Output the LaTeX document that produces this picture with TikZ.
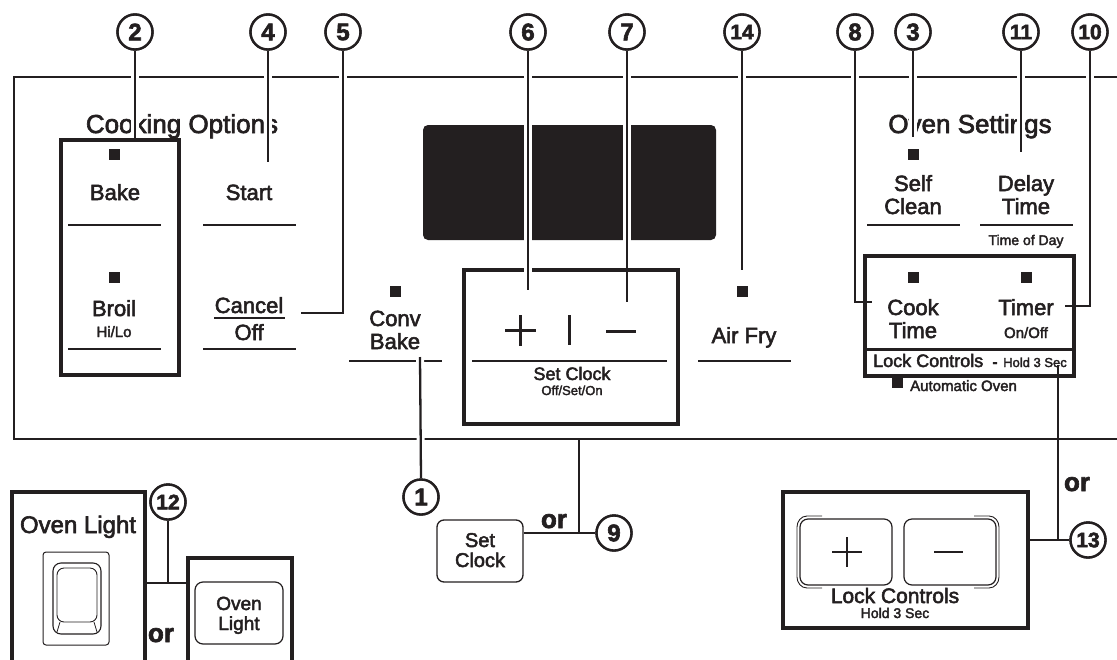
\documentclass[tikz,border=0pt]{standalone}
\usepackage{fontspec}
\setmainfont{Liberation Sans}[FakeBold=2.5]
\definecolor{ink}{RGB}{35,31,32}
\begin{document}
\begin{tikzpicture}[x=1pt,y=-1pt,
  every node/.style={inner sep=0pt, text=ink},
  tA/.style={font=\fontsize{26}{28}\selectfont, anchor=base},
  tB/.style={font=\fontsize{22}{24}\selectfont, anchor=base},
  tC/.style={font=\fontsize{18}{20}\selectfont, anchor=base},
  tD/.style={font=\fontsize{15}{17}\selectfont, anchor=base},
  tE/.style={font=\fontsize{13}{15}\selectfont, anchor=base},
  orlbl/.style={font=\bfseries\fontsize{26}{28}\selectfont, anchor=base},
  num/.style={circle, draw=ink, fill=white, line width=2.4pt, minimum size=35pt, inner sep=0pt, font=\bfseries\fontsize{24}{24}\selectfont},
  numsm/.style={num, font=\bfseries\fontsize{21}{21}\selectfont},
  led/.style={fill=ink, minimum size=11pt, inner sep=0pt},
  panel/.style={draw=ink, line width=1.8pt},
  uline/.style={draw=ink, line width=2.8pt},
  heavybox/.style={draw=ink, line width=4.2pt},
  ldr/.style={draw=ink, line width=2.3pt, preaction={draw=white, line width=8pt}},
  ldrplain/.style={draw=ink, line width=2.3pt},
  thinbtn/.style={draw=ink, line width=1.3pt, rounded corners=7pt},
  sym/.style={draw=ink, line width=3pt}
]
\useasboundingbox (0,0) rectangle (1117,659);
\clip (0,0) rectangle (1117,659);

% panel outline
\draw[panel] (1117,77) -- (14,77) -- (14,439) -- (1117,439);

% texts in panel
\node[tA] (cookopt) at (182,133) {Cooking Options};
\node[tA] (ovenset) at (970,133) {Oven Settings};
\node[tB] (bake) at (115,200) {Bake};
\node[tB] (start) at (249,200) {Start};
\node[tB] (broil) at (114,316) {Broil};
\node[tD] (hilo) at (114,337) {Hi/Lo};
\node[tB] (cancel) at (249,313) {Cancel};
\node[tB] (off) at (249,340) {Off};
\node[tB] (conv) at (395,326) {Conv};
\node[tB] (cbake) at (395,349) {Bake};
\node[tC] (setclk) at (572,380) {Set Clock};
\node[tE] (osn) at (572,395) {Off/Set/On};
\node[tB] (airfry) at (744,343) {Air Fry};
\node[tB] (self) at (913,191) {Self};
\node[tB] (clean) at (913,214) {Clean};
\node[tB] (delay) at (1026,191) {Delay};
\node[tB] (dtime) at (1026,214) {Time};
\node[font=\fontsize{14}{16}\selectfont, anchor=base] (tod) at (1026,245) {Time of Day};
\node[tB] (cook) at (913,315) {Cook};
\node[tB] (ctime) at (913,338) {Time};
\node[tB] (timer) at (1026,315) {Timer};
\node[tD] (onoff) at (1026,338) {On/Off};
\node[font=\fontsize{18}{20}\selectfont, anchor=base west] (lockc) at (873,367) {Lock Controls};
\node[font=\bfseries\fontsize{15}{17}\selectfont, anchor=base] (dash) at (995,367) {-};
\node[tE, anchor=base west] (hold) at (1003,367) {Hold 3 Sec};
\node[tD, anchor=base west] (auto) at (910,391) {Automatic Oven};

% LEDs
\node[led] (ledbake) at (114,154) {};
\node[led] (ledbroil) at (114,277) {};
\node[led] (ledconv) at (395,291) {};
\node[led] (ledair) at (742,291) {};
\node[led] (ledself) at (913,154) {};
\node[led] (ledcook) at (913,277) {};
\node[led] (ledtimer) at (1026,277) {};
\node[led] (ledauto) at (897,382) {};

% underlines
\draw[uline] (68,225) -- (161,225);
\draw[uline] (203,225) -- (296,225);
\draw[uline] (68,349) -- (161,349);
\draw[uline] (203,349) -- (296,349);
\draw[draw=ink, line width=2pt] (214,318) -- (285,318);
\draw[uline] (349,361) -- (442,361);
\draw[uline] (472,361) -- (667,361);
\draw[uline] (698,361) -- (791,361);
\draw[uline] (867,225) -- (960,225);
\draw[uline] (980,225) -- (1073,225);

% display
\fill[ink, rounded corners=5pt] (423,125) rectangle (716,240);

% plus | minus
\draw[sym] (505,330) -- (536,330) (520,315) -- (520,346);
\draw[sym] (569,315) -- (569,345);
\draw[sym] (606,331) -- (636,331);

% number circles (positions)
\node[num] (n2) at (135,32) {2};
\node[num] (n4) at (268,32) {4};
\node[num] (n5) at (343,32) {5};
\node[num] (n6) at (528,32) {6};
\node[num] (n7) at (627,32) {7};
\node[numsm] (n14) at (742,32) {14};
\node[num] (n8) at (855,32) {8};
\node[num] (n3) at (913,32) {3};
\node[numsm] (n11) at (1021,32) {11};
\node[numsm] (n10) at (1090,32) {10};
\node[num] (n1) at (421,497) {1};
\node[num] (n9) at (614,533) {9};
\node[numsm] (n12) at (168,502) {12};
\node[numsm] (n13) at (1088,540) {13};

% leaders
\draw[ldr] (n2.south) -- (135,140);
\draw[ldr] (n4.south) -- (268,162);
\draw[ldr] (n5.south) -- (343,313) -- (301,313);
\draw[ldr] (n7.south) -- (627,302);
\draw[ldr] (n14.south) -- (742,270);
\draw[ldr] (n8.south) -- (855,302) -- (872,302);
\draw[ldr] (n3.south) -- (913,137);
\draw[ldr] (n11.south) -- (1021,152);
\draw[ldr] (n10.south) -- (1090,306) -- (1065,306);
\draw[ldr] (420,357) -- (n1.north);

% heavy boxes
\draw[heavybox] (61,140) rectangle (179,375);
\draw[heavybox] (464,270) rectangle (678,424);
\draw[heavybox] (865,256) rectangle (1074,376);
\draw[draw=ink, line width=3pt] (865,349) -- (1074,349);

% leader 6 cutting the set clock box
\draw[ldr] (n6.south) -- (528,290);

% leader 13
\coordinate (l13top) at (1058,365);
\draw[ldrplain] (l13top) -- (1058,540);

% redraw circles on top
\foreach \n/\t in {n2/2,n4/4,n5/5,n6/6,n7/7,n8/8,n3/3,n1/1}{
  \node[num] at (\n) {\t};
}
\foreach \n/\t in {n14/14,n11/11,n10/10}{
  \node[numsm] at (\n) {\t};
}

% ---------- bottom left: oven light ----------
\draw[heavybox] (12,492) rectangle (145,700);
\node[font=\fontsize{24}{26}\selectfont, anchor=base] (ovlt) at (78,533) {Oven Light};
\draw[draw=ink, line width=1pt, rounded corners=3pt] (43,552) rectangle (109,645);
\draw[draw=ink, line width=1.1pt, rounded corners=8pt] (53,563) rectangle (101,634);
\draw[draw=ink, line width=0.9pt, rounded corners=7pt] (57,568) rectangle (97,622);
\draw[draw=ink, line width=0.8pt] (60,622) -- (57,632) (94,622) -- (97,632);
\draw[heavybox] (188,558) rectangle (292,700);
\node[thinbtn, minimum width=88pt, minimum height=62pt, line width=1.2pt, rounded corners=8pt] (olbtn) at (239,613) {};
\node[font=\fontsize{19}{21}\selectfont, anchor=base] (ov1) at (239,610) {Oven};
\node[font=\fontsize{19}{21}\selectfont, anchor=base] (ov2) at (239,630) {Light};
\node[orlbl] (or12) at (161,642) {or};
\coordinate (j12) at (168,583);
\draw[ldrplain] (n12.south) -- (j12);
\draw[ldrplain] (147,583) -- (186,583);

% ---------- bottom centre: set clock button ----------
\node[thinbtn, minimum width=86pt, minimum height=62pt] (scbtn) at (480,551) {};
\node[font=\fontsize{20}{22}\selectfont, anchor=base] (sc1) at (480,547) {Set};
\node[font=\fontsize{20}{22}\selectfont, anchor=base] (sc2) at (480,567) {Clock};
\node[orlbl] (or9) at (554,528) {or};
\coordinate (j9) at (579,533);
\draw[ldrplain] (579,439) -- (j9);
\draw[ldrplain] (scbtn.east |- j9) -- (n9.west);

% ---------- bottom right: lock controls ----------
\draw[heavybox] (783,492) rectangle (1028,628);
\node[draw=ink, line width=1.2pt, rounded corners=8pt, minimum width=92pt, minimum height=66pt] (pbtn) at (846,552) {};
\node[draw=ink, line width=1.2pt, rounded corners=8pt, minimum width=92pt, minimum height=66pt] (mbtn) at (950,552) {};
\draw[draw=ink, line width=0.9pt] (822,516) -- (807,516) to[out=180,in=90] (797,527) -- (797,577) to[out=-90,in=180] (807,588) -- (822,588);
\draw[draw=ink, line width=0.9pt] (974,516) -- (989,516) to[out=0,in=90] (999,527) -- (999,577) to[out=-90,in=0] (989,588) -- (974,588);
\draw[draw=ink, line width=2.6pt] (832,552) -- (862,552) (847,537) -- (847,567);
\draw[draw=ink, line width=2.6pt] (934,552) -- (963,552);
\node[font=\fontsize{21}{23}\selectfont, anchor=base] (lc2) at (895,603) {Lock Controls};
\node[font=\fontsize{14}{16}\selectfont, anchor=base] (hold2) at (895,618) {Hold 3 Sec};
\node[orlbl] (or13) at (1077,491) {or};
\draw[ldrplain] (1030,540) -- (n13.west);
\node[numsm] at (n13) {13};
\node[num] at (n9) {9};
\node[numsm] at (n12) {12};
\end{tikzpicture}
\end{document}
